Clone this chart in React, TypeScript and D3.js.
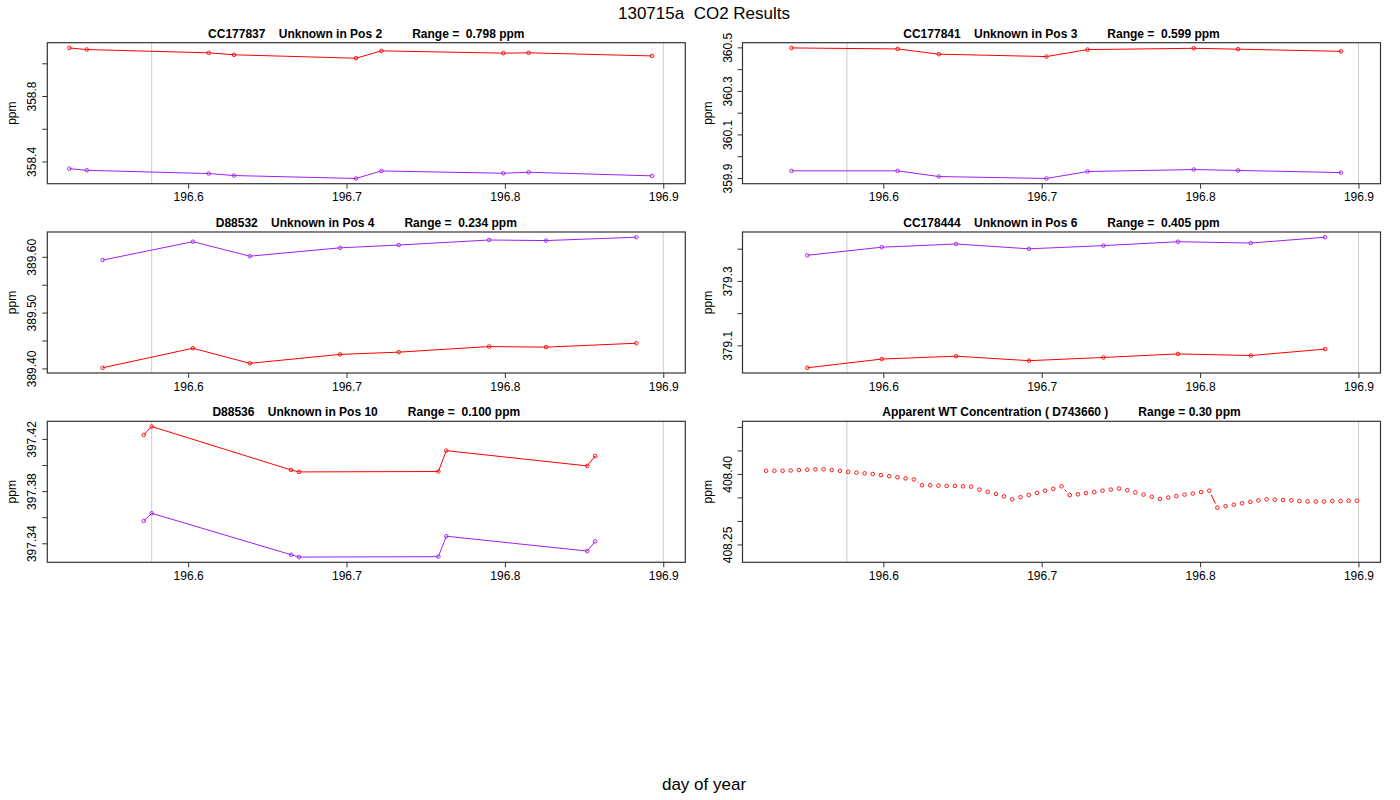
import React, { useEffect, useRef } from 'react';
import * as d3 from 'd3';

// day-of-year axis shared by all panels
const xTicks = [196.6, 196.7, 196.8, 196.9];
const markerDays = [196.577, 196.9];

// CC177837 - Unknown in Pos 2
const t1 = [196.525, 196.536, 196.613, 196.629, 196.706, 196.722, 196.799, 196.815, 196.893];
const red1 = [359.097, 359.087, 359.067, 359.055, 359.034, 359.079, 359.065, 359.067, 359.048];
const purple1 = [358.359, 358.349, 358.329, 358.317, 358.299, 358.345, 358.331, 358.337, 358.315];
const yTicks1 = [358.4, 358.6, 358.8, 359.0];
const yLabels1 = ['358.4', '358.8'];

// CC177841 - Unknown in Pos 3
const t2 = [196.542, 196.609, 196.635, 196.703, 196.729, 196.796, 196.824, 196.889];
const red2 = [360.4997, 360.495, 360.471, 360.46, 360.492, 360.498, 360.494, 360.484];
const purple2 = [359.935, 359.935, 359.909, 359.9, 359.932, 359.941, 359.937, 359.927];
const yTicks2 = [359.9, 360.0, 360.1, 360.2, 360.3, 360.4, 360.5];
const yLabels2 = ['359.9', '360.1', '360.3', '360.5'];

// D88532 - Unknown in Pos 4
const t3 = [196.546, 196.603, 196.639, 196.696, 196.733, 196.79, 196.826, 196.883];
const purple3 = [389.595, 389.628, 389.602, 389.617, 389.622, 389.631, 389.63, 389.636];
const red3 = [389.402, 389.437, 389.41, 389.426, 389.43, 389.44, 389.439, 389.446];
const yTicks3 = [389.4, 389.45, 389.5, 389.55, 389.6];
const yLabels3 = ['389.40', '389.50', '389.60'];

// CC178444 - Unknown in Pos 6
const t4 = [196.552, 196.599, 196.646, 196.692, 196.739, 196.786, 196.832, 196.879];
const purple4 = [379.381, 379.406, 379.416, 379.401, 379.411, 379.423, 379.419, 379.437];
const red4 = [379.032, 379.059, 379.068, 379.054, 379.064, 379.075, 379.07, 379.09];
const yTicks4 = [379.1, 379.2, 379.3, 379.4];
const yLabels4 = ['379.1', '379.3'];

// D88536 - Unknown in Pos 10
const t5 = [196.572, 196.577, 196.665, 196.67, 196.758, 196.763, 196.852, 196.857];
const red5 = [397.4235, 397.4299, 397.3966, 397.3951, 397.3954, 397.4114, 397.3997, 397.4073];
const purple5 = [397.3575, 397.3634, 397.3316, 397.3298, 397.3301, 397.3458, 397.3344, 397.3418];
const yTicks5 = [397.34, 397.36, 397.38, 397.4, 397.42];
const yLabels5 = ['397.34', '397.38', '397.42'];

// Apparent WT concentration (D743660)
const wtTimes = [
  196.526, 196.5312, 196.5364, 196.5415, 196.5467, 196.5519, 196.5571, 196.5623, 196.5674, 196.5726,
  196.5778, 196.583, 196.5882, 196.5933, 196.5985, 196.6037, 196.6089, 196.6141, 196.6193, 196.6244,
  196.6296, 196.6348, 196.64, 196.6452, 196.6503, 196.6555, 196.6607, 196.6659, 196.6711, 196.6762,
  196.6814, 196.6866, 196.6918, 196.697, 196.7021, 196.7073, 196.7125, 196.7177, 196.7229, 196.728,
  196.7332, 196.7384, 196.7436, 196.7488, 196.754, 196.7591, 196.7643, 196.7695, 196.7747, 196.7799,
  196.785, 196.7902, 196.7954, 196.8006, 196.8058, 196.8109, 196.8161, 196.8213, 196.8265, 196.8317,
  196.8368, 196.842, 196.8472, 196.8524, 196.8576, 196.8627, 196.8679, 196.8731, 196.8783, 196.8835,
  196.8887, 196.8938, 196.899,
];
const wtValues = [
  408.4077, 408.4077, 408.4077, 408.4084, 408.4092, 408.41, 408.4108, 408.4108, 408.4092, 408.4077,
  408.4054, 408.4038, 408.4023, 408.4008, 408.3985, 408.3962, 408.3939, 408.3915, 408.3892, 408.377,
  408.377, 408.3762, 408.3754, 408.3754, 408.3747, 408.3739, 408.3677, 408.3631, 408.3585, 408.3532,
  408.347, 408.3516, 408.3562, 408.3608, 408.3654, 408.3693, 408.3747, 408.3562, 408.3577, 408.3601,
  408.3624, 408.3654, 408.3677, 408.37, 408.3662, 408.3616, 408.357, 408.3524, 408.3478, 408.3508,
  408.3539, 408.357, 408.3593, 408.3624, 408.3654, 408.3293, 408.3324, 408.3355, 408.3386, 408.3416,
  408.3447, 408.347, 408.3462, 408.3455, 408.3447, 408.3432, 408.3424, 408.3424, 408.3424, 408.3432,
  408.3432, 408.3439, 408.3439,
];
const wtLimits: [number, number] = [408.213, 408.513];
const yTicks6 = [408.25, 408.3, 408.35, 408.4, 408.45, 408.5];
const yLabels6 = ['408.25', '408.40'];

const titles = [
  'CC177837    Unknown in Pos 2         Range =  0.798 ppm',
  'CC177841    Unknown in Pos 3         Range =  0.599 ppm',
  'D88532    Unknown in Pos 4         Range =  0.234 ppm',
  'CC178444    Unknown in Pos 6         Range =  0.405 ppm',
  'D88536    Unknown in Pos 10         Range =  0.100 ppm',
  'Apparent WT Concentration ( D743660 )         Range = 0.30 ppm',
];

const RED = '#ff0000';
const PURPLE = '#a020f0';

interface Series { values: number[]; color: string; }
interface PanelDef {
  title: string;
  times: number[];
  series: Series[];
  yTicks: number[];
  yLabels: string[];
  yLimits?: [number, number];
  gapped?: boolean;
}

const panels: PanelDef[] = [
  { title: titles[0], times: t1, series: [{ values: red1, color: RED }, { values: purple1, color: PURPLE }], yTicks: yTicks1, yLabels: yLabels1 },
  { title: titles[1], times: t2, series: [{ values: red2, color: RED }, { values: purple2, color: PURPLE }], yTicks: yTicks2, yLabels: yLabels2 },
  { title: titles[2], times: t3, series: [{ values: red3, color: RED }, { values: purple3, color: PURPLE }], yTicks: yTicks3, yLabels: yLabels3 },
  { title: titles[3], times: t4, series: [{ values: red4, color: RED }, { values: purple4, color: PURPLE }], yTicks: yTicks4, yLabels: yLabels4 },
  { title: titles[4], times: t5, series: [{ values: red5, color: RED }, { values: purple5, color: PURPLE }], yTicks: yTicks5, yLabels: yLabels5 },
  { title: titles[5], times: wtTimes, series: [{ values: wtValues, color: RED }], yTicks: yTicks6, yLabels: yLabels6, yLimits: wtLimits, gapped: true },
];

const App: React.FC = () => {
  const svgRef = useRef<SVGSVGElement>(null);

  useEffect(() => {
    if (!svgRef.current) return;

    const svg = d3.select(svgRef.current);
    svg.selectAll('*').remove();

    const width = 1400;
    const height = 800;
    const plotW = 638;
    const plotH = 141;
    const colX = [47.3, 742.5];
    const rowY = [42.7, 232, 421.3];
    const font = '"Liberation Sans", Arial, Helvetica, sans-serif';
    const ink = '#333';

    svg.append('rect').attr('width', width).attr('height', height).attr('fill', '#fff');

    // R style: data range plus 4% on each side
    const [tMin, tMax] = d3.extent(wtTimes) as [number, number];
    const tPad = (tMax - tMin) * 0.04;
    const x = d3.scaleLinear().domain([tMin - tPad, tMax + tPad]).range([0, plotW]);

    panels.forEach((p, i) => {
      const g = svg.append('g')
        .attr('transform', `translate(${colX[i % 2]},${rowY[Math.floor(i / 2)]})`);

      let yDom: [number, number];
      if (p.yLimits) {
        yDom = p.yLimits;
      } else {
        const [lo, hi] = d3.extent(p.series.flatMap(s => s.values)) as [number, number];
        const pad = (hi - lo) * 0.04;
        yDom = [lo - pad, hi + pad];
      }
      const y = d3.scaleLinear().domain(yDom).range([plotH, 0]);

      // grey marker lines
      g.selectAll('.marker')
        .data(markerDays)
        .enter().append('line')
        .attr('x1', d => x(d)).attr('x2', d => x(d))
        .attr('y1', 0).attr('y2', plotH)
        .attr('stroke', '#cccccc')
        .attr('stroke-width', 1);

      p.series.forEach(s => {
        const pts: [number, number][] = p.times.map((t, j) => [x(t), y(s.values[j])]);

        if (p.gapped) {
          // type = "b": segments stop short of the points
          const gap = 4.5;
          for (let j = 1; j < pts.length; j++) {
            const [ax, ay] = pts[j - 1];
            const [bx, by] = pts[j];
            const dist = Math.hypot(bx - ax, by - ay);
            if (dist <= gap * 2) continue;
            const ux = (bx - ax) / dist;
            const uy = (by - ay) / dist;
            g.append('line')
              .attr('x1', ax + ux * gap).attr('y1', ay + uy * gap)
              .attr('x2', bx - ux * gap).attr('y2', by - uy * gap)
              .attr('stroke', s.color)
              .attr('stroke-width', 1);
          }
        } else {
          g.append('path')
            .datum(pts)
            .attr('fill', 'none')
            .attr('stroke', s.color)
            .attr('stroke-width', 1)
            .attr('d', d3.line() as any);
        }

        g.selectAll(null)
          .data(pts)
          .enter().append('circle')
          .attr('cx', d => d[0])
          .attr('cy', d => d[1])
          .attr('r', 1.8)
          .attr('fill', 'none')
          .attr('stroke', s.color)
          .attr('stroke-width', 0.9);
      });

      // frame
      g.append('rect')
        .attr('width', plotW).attr('height', plotH)
        .attr('fill', 'none')
        .attr('stroke', ink)
        .attr('stroke-width', 1.2);

      // x axis
      const xAxis = g.append('g')
        .attr('transform', `translate(0,${plotH})`)
        .call(d3.axisBottom(x).tickValues(xTicks).tickSize(5).tickPadding(4).tickFormat(d3.format('.1f')) as any);
      xAxis.select('.domain').remove();
      xAxis.selectAll('line').attr('stroke', ink);
      xAxis.selectAll('text').attr('font-family', font).attr('font-size', 12).attr('fill', '#000');

      // y axis, labels rotated as in base R
      g.selectAll('.ytick')
        .data(p.yTicks)
        .enter().append('line')
        .attr('x1', -5).attr('x2', 0)
        .attr('y1', d => y(d)).attr('y2', d => y(d))
        .attr('stroke', ink);

      g.selectAll('.ylab')
        .data(p.yLabels)
        .enter().append('text')
        .attr('transform', d => `translate(-11,${y(+d)}) rotate(-90)`)
        .attr('text-anchor', 'middle')
        .attr('font-family', font)
        .attr('font-size', 12)
        .text(d => d);

      g.append('text')
        .attr('transform', `translate(-31,${plotH / 2}) rotate(-90)`)
        .attr('text-anchor', 'middle')
        .attr('font-family', font)
        .attr('font-size', 12)
        .text('ppm');

      g.append('text')
        .attr('x', plotW / 2)
        .attr('y', -5)
        .attr('text-anchor', 'middle')
        .attr('font-family', font)
        .attr('font-size', 12)
        .attr('font-weight', 'bold')
        .style('white-space', 'pre')
        .text(p.title);
    });

    svg.append('text')
      .attr('x', 704).attr('y', 19)
      .attr('text-anchor', 'middle')
      .attr('font-family', font)
      .attr('font-size', 17)
      .style('white-space', 'pre')
      .text('130715a  CO2 Results');

    svg.append('text')
      .attr('x', 704).attr('y', 790)
      .attr('text-anchor', 'middle')
      .attr('font-family', font)
      .attr('font-size', 17)
      .text('day of year');
  }, []);

  return (
    <div style={{ position: 'absolute', left: 0, top: 0 }}>
      <svg ref={svgRef} width={1400} height={800} viewBox="0 0 1400 800" style={{ display: 'block' }} />
    </div>
  );
};

export default App;
